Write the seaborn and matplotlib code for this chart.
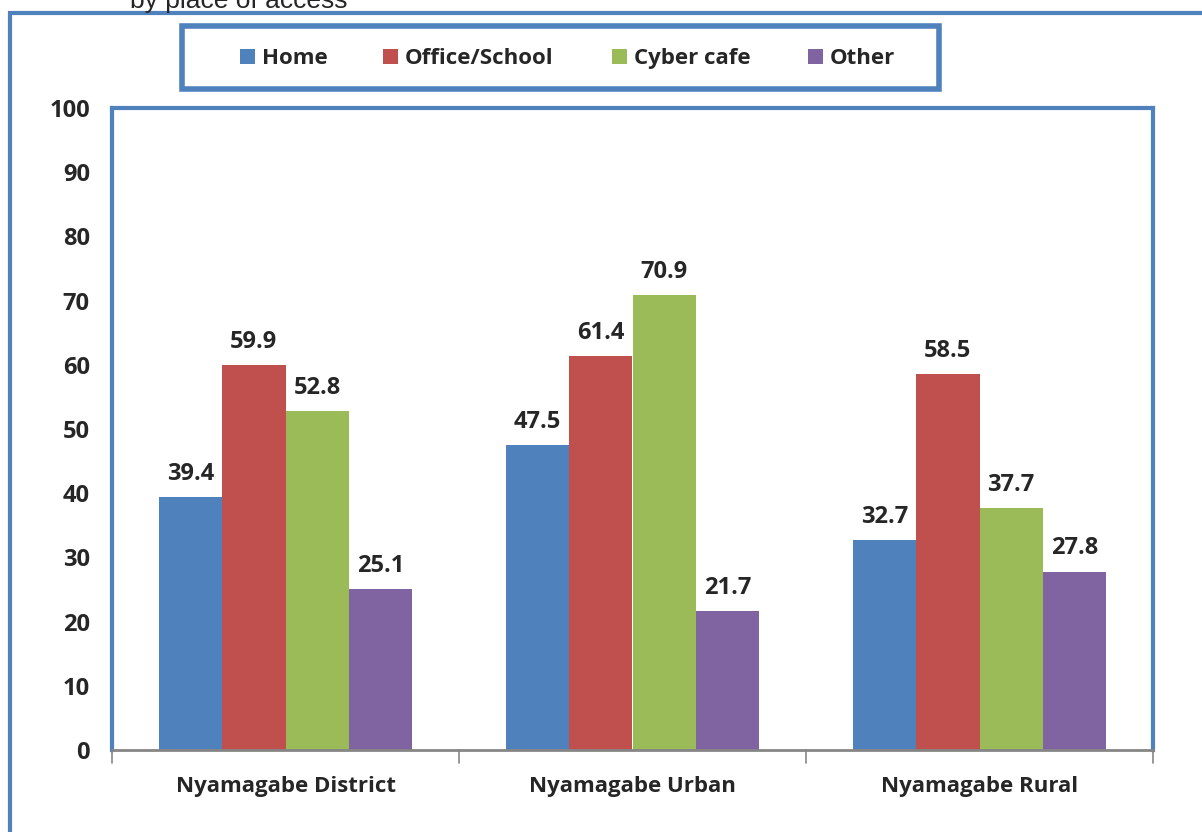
import pandas as pd
import matplotlib
matplotlib.use("Agg")
import matplotlib.pyplot as plt
import seaborn as sns
from matplotlib.patches import Rectangle

# data
areas = ["Nyamagabe District", "Nyamagabe Urban", "Nyamagabe Rural"]
places = ["Home", "Office/School", "Cyber cafe", "Other"]
home = [39.4, 47.5, 32.7]
office = [59.9, 61.4, 58.5]
cyber = [52.8, 70.9, 37.7]
other = [25.1, 21.7, 27.8]
colors = ["#4F81BD", "#C0504D", "#9BBB59", "#8064A2"]

rows = []
for p, vals in zip(places, [home, office, cyber, other]):
    for a, v in zip(areas, vals):
        rows.append({"area": a, "place": p, "value": v})
df = pd.DataFrame(rows)

sns.set_style("white")
plt.rcParams["font.family"] = ["Open Sans", "DejaVu Sans"]
blue = "#4F81BD"
W, H = 1202, 832

fig = plt.figure(figsize=(12.02, 8.32), dpi=100)
ax = fig.add_axes([112 / W, 1 - 750 / H, 1041 / W, 642 / H])

sns.barplot(data=df, x="area", y="value", hue="place", hue_order=places,
            order=areas, palette=colors, width=0.73, gap=0, saturation=1,
            edgecolor="none", ax=ax, legend=False)

for c in ax.containers:
    ax.bar_label(c, fmt="%.1f", padding=8, fontsize=17, fontweight="bold")

ax.set_ylim(0, 100)
ax.set_xlim(-0.5, 2.5)
ax.set_yticks(range(0, 101, 10))
ax.set_xlabel("")
ax.set_ylabel("")
ax.tick_params(axis="y", labelsize=17, length=6, color="#868686", pad=10)
ax.tick_params(axis="x", labelsize=16, length=0, pad=19)
for lab in ax.get_xticklabels() + ax.get_yticklabels():
    lab.set_fontweight("bold")

for s in ["top", "right", "left"]:
    ax.spines[s].set_color(blue)
    ax.spines[s].set_linewidth(3)
ax.spines["bottom"].set_color("#868686")
ax.spines["bottom"].set_linewidth(2)
# category separator ticks below the axis
for xt in [-0.5, 0.5, 1.5, 2.5]:
    ax.plot([xt, xt], [0, -2], color="#868686", lw=1.2, clip_on=False)

# outer chart frame (only left and top visible)
fig.patches.append(Rectangle((10 / W, -0.1), 1.2, (1 - 13 / H) + 0.1,
                             transform=fig.transFigure, fill=False,
                             edgecolor=blue, lw=3))

# legend box with entries in one baseline row
fig.patches.append(Rectangle((182 / W, 1 - 89 / H), 757 / W, 63 / H,
                             transform=fig.transFigure, fill=False,
                             edgecolor=blue, lw=4))
leg_x = [240, 383, 612, 808]
for x0, name, col in zip(leg_x, places, colors):
    fig.patches.append(Rectangle((x0 / W, 1 - 64 / H), 15 / W, 15 / H,
                                 transform=fig.transFigure, facecolor=col,
                                 edgecolor="none"))
    fig.text((x0 + 22) / W, 1 - 64 / H, name, ha="left", va="baseline",
             fontsize=16, fontweight="bold")

# title is cut off by the top edge, as in the source
fig.text(239 / W, 1 - 8 / H, "by place of access", ha="center", va="baseline",
         fontsize=19, family="Liberation Sans")

fig.savefig("out.png", dpi=100)
